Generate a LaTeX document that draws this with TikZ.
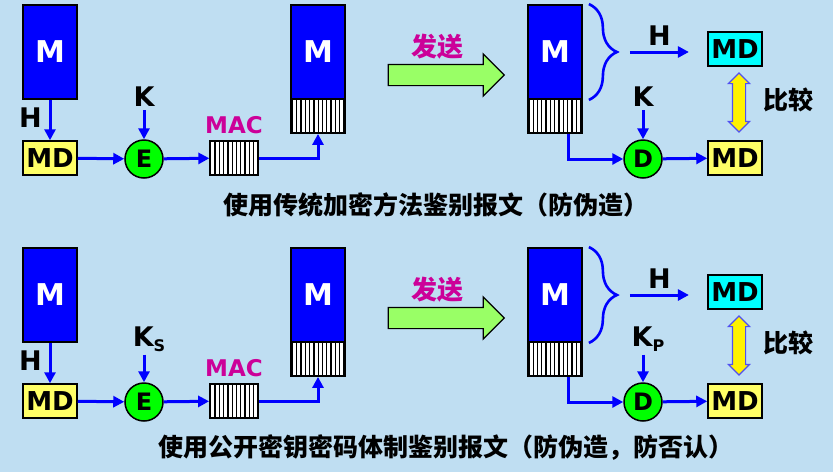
\documentclass[tikz,border=0pt]{standalone}
\usepackage{fontspec}
\setmainfont{DejaVu Sans}
\newfontfamily\zhfont{Noto Sans CJK SC}
\usetikzlibrary{positioning,arrows.meta,shapes.arrows,patterns.meta,decorations.pathreplacing}

\definecolor{bgblue}{HTML}{BFDEF2}
\definecolor{msgblue}{HTML}{0000FF}
\definecolor{flowblue}{HTML}{0000FF}
\definecolor{mdyellow}{HTML}{FFFF66}
\definecolor{mdcyan}{HTML}{00FFFF}
\definecolor{opgreen}{HTML}{00FF00}
\definecolor{sendgreen}{HTML}{99FF66}
\definecolor{labmagenta}{HTML}{CC0099}
\definecolor{cmpblue}{HTML}{5050F0}

\tikzset{
  msg-box/.style={rectangle, draw=black, fill=msgblue, line width=1.8pt, minimum width=54pt, minimum height=94pt, inner sep=0pt, text=white, font=\fontsize{30}{30}\selectfont\bfseries},
  msg-hatch/.style={rectangle, draw=black, line width=1.8pt, minimum width=54pt, minimum height=34pt, inner sep=0pt, preaction={fill=white}, pattern={Lines[angle=90, distance=4.3pt, line width=1.3pt]}},
  mac-hatch/.style={msg-hatch, minimum width=48pt},
  md-box/.style={rectangle, draw=black, line width=1.5pt, fill=mdyellow, minimum width=54pt, minimum height=34pt, inner sep=0pt, font=\fontsize{26}{26}\selectfont\bfseries},
  md-cyan/.style={md-box, fill=mdcyan},
  op-node/.style={circle, draw=black, line width=1.5pt, fill=opgreen, minimum size=38pt, inner sep=0pt, font=\fontsize{24}{24}\selectfont\bfseries},
  key-label/.style={inner sep=3pt, font=\fontsize{27}{27}\selectfont\bfseries},
  mac-label/.style={inner sep=2pt, text=labmagenta, font=\fontsize{23}{23}\selectfont\bfseries},
  zh-label/.style={inner sep=2pt, font=\zhfont\fontsize{25}{25}\selectfont\bfseries},
  send-label/.style={zh-label, text=labmagenta, font=\zhfont\fontsize{26}{26}\selectfont\bfseries},
  flow/.style={-{Triangle[length=11pt,width=11pt]}, line width=3pt, draw=flowblue},
  send-arrow/.style={single arrow, draw=black, line width=1.2pt, fill=sendgreen, minimum height=116pt, text height=10pt, text depth=10pt, single arrow head extend=10.5pt, inner sep=0pt},
  cmp-arrow/.style={double arrow, draw=cmpblue, line width=1.2pt, fill=yellow, minimum height=59pt, text height=6pt, text depth=6pt, double arrow head extend=4pt, inner sep=0pt, rotate=90},
  brace-line/.style={draw=flowblue, line width=2.6pt, decorate, decoration={brace, amplitude=28pt}},
}

\newcommand{\subkey}[1]{\raisebox{-5pt}{\fontsize{16}{16}\selectfont #1}}

\begin{document}
\begin{tikzpicture}[x=1pt, y=-1pt]

    % Background
    \fill[bgblue] (0,0) rectangle (833,472);
    \useasboundingbox (0,0) rectangle (833,472);

    % ---------- Top panel: conventional encryption ----------
    % Sender
    \node[msg-box] (mA) at (50,52) {M};
    \node[md-box] (mdA) at (50,158) {MD};
    \node[key-label, anchor=east] (hA) at (45,118) {H};
    \node[op-node] (encA) at (144,159) {E};
    \node[key-label] (kA) at (144,97) {K};
    \node[mac-hatch] (macA) at (234,158) {};
    \node[mac-label, above=4pt of macA] (maclA) {MAC};

    % Transmitted message
    \node[msg-box] (m2A) at (318,52) {M};
    \node[msg-hatch] (h2A) at (318,116) {};

    % Send arrow
    \node[send-arrow] (sendA) at (441,75) {};
    \node[send-label] (sendlA) at (437,47) {发送};

    % Receiver
    \node[msg-box] (m3A) at (555,52) {M};
    \node[msg-hatch] (h3A) at (555,116) {};
    \coordinate (hsA) at ([xshift=47pt]m3A.east);
    \coordinate (heA) at ([xshift=106pt]m3A.east);
    \node[md-cyan] (mdhA) at (735,49) {MD};
    \node[md-box] (mddA) at (735,158) {MD};
    \node[op-node] (decA) at (643,159) {D};
    \node[key-label] (kdA) at (643,97) {K};
    \node[cmp-arrow] (cmpA) at (739,102.5) {};
    \node[zh-label] (cmplA) at (788,100) {比较};

    % Edges
    \draw[flow] (mA) -- (mdA);
    \draw[flow] (kA) -- (encA);
    \draw[flow] (mdA) -- (encA);
    \draw[flow] (encA) -- (macA);
    \draw[flow] (macA.east) -| (h2A.south);
    \draw[brace-line] ([xshift=6pt]m3A.north east) -- ([xshift=6pt]m3A.south east);
    \draw[flow] (hsA) -- (heA) node[midway, key-label, above=2pt] {H};
    \draw[flow] ([xshift=13pt]h3A.south) |- (decA.west);
    \draw[flow] (kdA) -- (decA);
    \draw[flow] (decA) -- (mddA);

    \node[zh-label] (capA) at (436,205) {使用传统加密方法鉴别报文（防伪造）};

    % ---------- Bottom panel: public key ----------
    \begin{scope}[yshift=-243pt]
    % Sender
    \node[msg-box] (mB) at (50,52) {M};
    \node[md-box] (mdB) at (50,158) {MD};
    \node[key-label, anchor=east] (hB) at (45,118) {H};
    \node[op-node] (encB) at (144,159) {E};
    \node[key-label] (kB) at (149,96) {K\subkey{S}};
    \node[mac-hatch] (macB) at (234,158) {};
    \node[mac-label, above=4pt of macB] (maclB) {MAC};

    % Transmitted message
    \node[msg-box] (m2B) at (318,52) {M};
    \node[msg-hatch] (h2B) at (318,116) {};

    % Send arrow
    \node[send-arrow] (sendB) at (441,75) {};
    \node[send-label] (sendlB) at (437,47) {发送};

    % Receiver
    \node[msg-box] (m3B) at (555,52) {M};
    \node[msg-hatch] (h3B) at (555,116) {};
    \coordinate (hsB) at ([xshift=47pt]m3B.east);
    \coordinate (heB) at ([xshift=106pt]m3B.east);
    \node[md-cyan] (mdhB) at (735,49) {MD};
    \node[md-box] (mddB) at (735,158) {MD};
    \node[op-node] (decB) at (643,159) {D};
    \node[key-label] (kdB) at (648,96) {K\subkey{P}};
    \node[cmp-arrow] (cmpB) at (739,102.5) {};
    \node[zh-label] (cmplB) at (788,100) {比较};

    % Edges
    \draw[flow] (mB) -- (mdB);
    \draw[flow] (kB.south -| encB.north) -- (encB);
    \draw[flow] (mdB) -- (encB);
    \draw[flow] (encB) -- (macB);
    \draw[flow] (macB.east) -| (h2B.south);
    \draw[brace-line] ([xshift=6pt]m3B.north east) -- ([xshift=6pt]m3B.south east);
    \draw[flow] (hsB) -- (heB) node[midway, key-label, above=2pt] {H};
    \draw[flow] ([xshift=13pt]h3B.south) |- (decB.west);
    \draw[flow] (kdB.south -| decB.north) -- (decB);
    \draw[flow] (decB) -- (mddB);

    \node[zh-label] (capB) at (446,205) {使用公开密钥密码体制鉴别报文（防伪造，防否认）};
    \end{scope}

\end{tikzpicture}
\end{document}
